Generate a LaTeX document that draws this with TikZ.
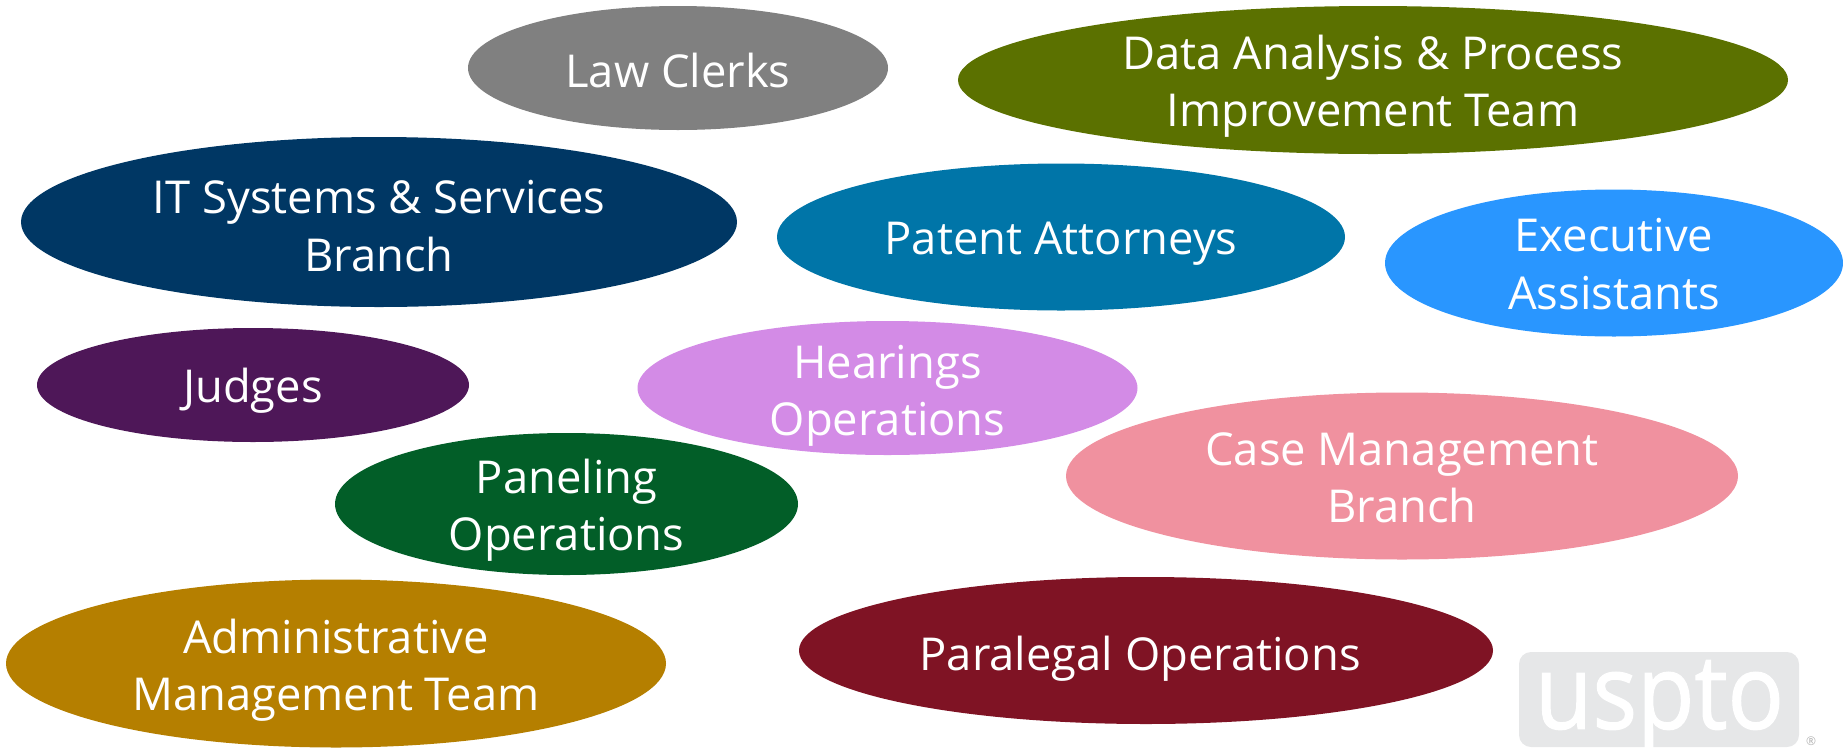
\documentclass[tikz,border=0pt]{standalone}
\usepackage{fontspec}
\setmainfont{Open Sans}
\newfontfamily\logofont[FakeBold=1.2]{Open Sans}
\usetikzlibrary{shapes.geometric}
\definecolor{lawGray}{HTML}{808080}
\definecolor{dataGreen}{HTML}{5B7100}
\definecolor{itNavy}{HTML}{003764}
\definecolor{patentBlue}{HTML}{0075A8}
\definecolor{execBlue}{HTML}{2996FF}
\definecolor{judgePurple}{HTML}{4E1758}
\definecolor{hearingLilac}{HTML}{D38BE6}
\definecolor{casePink}{HTML}{F0919F}
\definecolor{panelGreen}{HTML}{025E28}
\definecolor{adminGold}{HTML}{B57F00}
\definecolor{paraRed}{HTML}{7F1324}
\definecolor{logoGray}{HTML}{E6E7E8}
\tikzset{
  team/.style={ellipse,inner sep=0pt,outer sep=0pt},
  teamtext/.style={align=center,text=white,inner sep=0pt,font=\fontsize{34}{43}\selectfont}
}
\begin{document}
\begin{tikzpicture}[x=.75pt,y=-.75pt]

      \useasboundingbox (0,0) rectangle (1843,747);

      % draw the teams
      \def\teams{
        law/678/68/420/124/lawGray/2/{Law Clerks},
        data/1373/80/830/148/dataGreen/6/{Data Analysis \& Process\\Improvement Team},
        it/379/222/716/170/itNavy/4/{IT Systems \& Services\\Branch},
        patent/1061/237/568/147/patentBlue/7/{Patent Attorneys},
        exec/1614/263/458/147/execBlue/1/{Executive\\Assistants},
        judges/253/385/432/114/judgePurple/6/{Judges},
        hearings/887.5/388/500/134/hearingLilac/8/{Hearings\\Operations},
        case/1402/476/672/167/casePink/2/{Case Management\\Branch},
        paneling/566.5/504/463/142/panelGreen/6/{Paneling\\Operations},
        admin/336/663.5/660/168/adminGold/7/{Administrative\\Management Team},
        paralegal/1146/650.5/694/147/paraRed/8/{Paralegal Operations}
      }

      \foreach \id/\cx/\cy/\w/\h/\col/\dy/\name in \teams
      {
        \node [team,fill=\col,minimum width=\w*.75pt,minimum height=\h*.75pt] (\id) at (\cx,\cy) {};
        \node [teamtext] (\id-text) at ([yshift=-\dy*.75pt]\id.center) {\name};
      }

      % draw the logo
      \node [fill=logoGray,rounded corners=9pt,minimum width=210pt,minimum height=71.25pt,inner sep=0pt] (logo) at (1659,699.5) {};
      \node [text=white,inner sep=0pt,font=\fontsize{78}{78}\logofont] (logotext) at (1659.5,707) {\scalebox{.9}[1]{uspto}};
      \node [text=gray!60,inner sep=0pt,font=\fontsize{9}{9}\selectfont] (logomark) at (1811,741) {®};

    \end{tikzpicture}
\end{document}
